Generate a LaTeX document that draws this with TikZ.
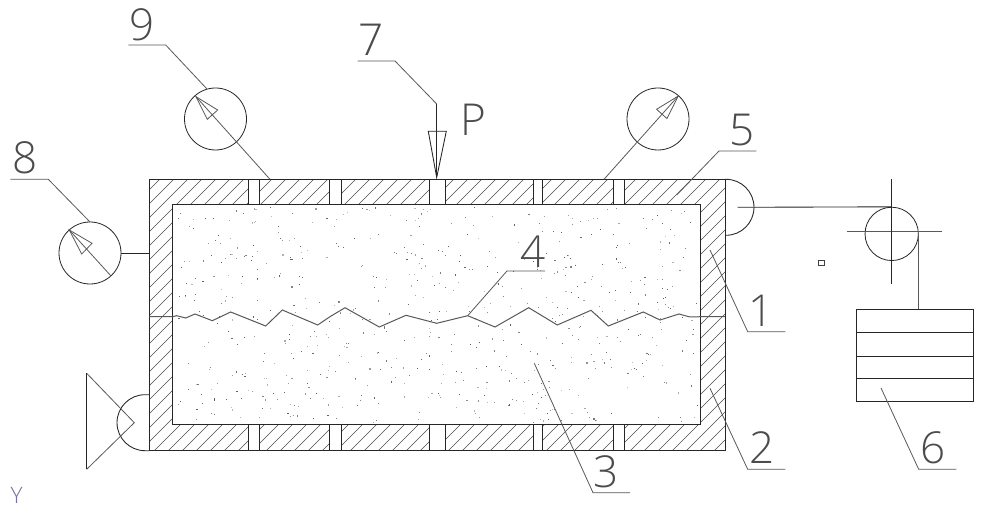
\documentclass[tikz,border=0pt]{standalone}
\usepackage{fontspec}
\newfontfamily\lab{Open Sans Light}
\begin{document}
\begin{tikzpicture}[x=0.75pt,y=-0.75pt,
  line/.style={draw=black!85,line width=0.65pt,line join=miter},
  thin line/.style={draw=black!65,line width=0.6pt},
  hatchline/.style={draw=black!70,line width=0.5pt},
  lab/.style={inner sep=0pt,outer sep=0pt,text=black!70,font=\lab\fontsize{33}{33}\selectfont}]
\useasboundingbox (0,0) rectangle (983,516);
\fill[white] (0,0) rectangle (983,516);
% stipple
\pgfmathsetseed{4711}
\foreach \i in {1,...,640}{
  \pgfmathsetmacro{\px}{176+rnd*522}
  \pgfmathsetmacro{\py}{207+rnd*215}
  \pgfmathsetmacro{\pg}{25+rnd*40}
  \fill[black!\pg] (\px,\py) rectangle +(1.1,1.1);
}
% hatching
\begin{scope}
  \clip (149.3,179.3) rectangle (172.7,450.7)
        (700.7,179.3) rectangle (725,450.7)
        (172.7,179.3) rectangle (248.3,204.3)
        (259.7,179.3) rectangle (329.3,204.3)
        (341.3,179.3) rectangle (429.3,204.3)
        (445.3,179.3) rectangle (533.3,204.3)
        (542.3,179.3) rectangle (613.7,204.3)
        (624.7,179.3) rectangle (700.7,204.3)
        (172.7,424.7) rectangle (248.3,450.7)
        (259.7,424.7) rectangle (329.3,450.7)
        (341.3,424.7) rectangle (429.3,450.7)
        (445.3,424.7) rectangle (533.3,450.7)
        (542.3,424.7) rectangle (613.7,450.7)
        (624.7,424.7) rectangle (700.7,450.7);
  \foreach \c in {325,339,...,1180}{
    \draw[hatchline] ({\c-170},170) -- ({\c-460},460);
  }
\end{scope}
% frame
\draw[line] (149.3,179.3) rectangle (725,450.7);
\draw[line] (172.7,204.3) rectangle (700.7,424.7);
\foreach \a/\b in {248.3/259.7,329.3/341.3,429.3/445.3,533.3/542.3,613.7/624.7}{
  \draw[line] (\a,179.3) -- (\a,204.3) (\b,179.3) -- (\b,204.3);
  \draw[line] (\a,424.7) -- (\a,450.7) (\b,424.7) -- (\b,450.7);
}
% crack
\draw[thin line,line width=0.75pt] (149.3,316.7) -- (172.7,316.7) -- (176.7,315.7) -- (185.7,318) -- (195,314) -- (212.3,320.7) -- (230.7,312) -- (265.7,326) -- (282.3,310) -- (317.7,325) -- (330,316.7) -- (345,307.7) -- (379.3,327) -- (406,315.3) -- (436.7,323.3) -- (467.7,315.7) -- (495,327) -- (528.7,307.7) -- (557.3,325) -- (591,310.3) -- (608.3,326) -- (643.3,312) -- (660,320) -- (679,314) -- (690,317) -- (700.7,316.7) -- (725,316.7);
% gauges
\node[circle,draw=black!85,line width=0.6pt,minimum size=46.5pt,inner sep=0pt] (g9) at (215.5,119) {};
\node[circle,draw=black!85,line width=0.6pt,minimum size=46.5pt,inner sep=0pt] (g8) at (90,253) {};
\node[circle,draw=black!85,line width=0.6pt,minimum size=46.5pt,inner sep=0pt] (gr) at (658,119) {};
\coordinate (t9) at (196,96.7);
\coordinate (t8) at (69.3,230);
\coordinate (tr) at (678.3,96);
\coordinate (w9) at (270,179.3);
\coordinate (wr) at (604,179.3);
\coordinate (e8) at (111,276);
\coordinate (wl) at (149.3,253);
\draw[thin line] (w9) -- (t9);
\draw[thin line] (wr) -- (tr);
\draw[thin line] (e8) -- (t8);
\draw[line] (g8.east) -- (wl);
\draw[thin line] (t9) -- (217.7,110) -- (207.3,119.3) -- cycle;
\draw[thin line] (t8) -- (92,243.3) -- (81.7,254) -- cycle;
\draw[thin line] (tr) -- (656.6,109.3) -- (667,118.6) -- cycle;
% load P
\coordinate (a7) at (436.7,104);
\coordinate (p7) at (436.7,177.5);
\draw[line] (a7) -- (p7);
\draw[line] (428.3,131.3) -- (446.3,131.3) -- (p7) -- cycle;
\node[lab,anchor=west] (pl) at (460.5,120) {P};
% right support and pulley
\draw[line] (725,179.3) -- (726,179.3) arc[start angle=-90,end angle=90,radius=28] -- (725,235.3);
\coordinate (rs) at (737.7,207.3);
\node[circle,draw=black!85,line width=0.6pt,minimum size=40pt,inner sep=0pt] (pul) at (891.7,233.9) {};
\draw[line] (rs) -- (pul.north);
\draw[thin line] (847.3,231.7) -- (941.7,231.7);
\draw[line] (891.7,179) -- (891.7,284.3);
\draw[thin line,line width=0.75pt] (918.3,233) -- (918.3,309.3);
\node[draw=black!75,line width=0.5pt,minimum size=4.2pt,inner sep=0pt] (sq) at (821.5,262.7) {};
% weights
\draw[line] (856.3,309.3) rectangle (973.3,401);
\foreach \y in {332.7,356.3,378.7}{ \draw[line] (856.3,\y) -- (973.3,\y); }
% left support
\draw[line] (149.3,394.7) -- (145,394.7) arc[start angle=270,end angle=90,radius=28] -- (149.3,450.7);
\draw[thin line] (86.7,373.3) -- (134.3,422.7) -- (86.7,469.3);
\draw[line] (86.7,373.3) -- (86.7,469.3);
% leaders
\draw[thin line] (128.3,45) -- (165.7,45) -- (206.7,88.7);
\draw[thin line] (10.3,179.3) -- (48.3,179.3) -- (90,222);
\draw[thin line] (357.7,61) -- (395,61) -- (a7);
\draw[thin line] (756.3,151) -- (719,151) -- (676.7,195);
\draw[thin line] (710,250) -- (747.7,331.7) -- (785.3,331.7);
\draw[thin line] (710,388.3) -- (747.7,469.3) -- (785.3,469.3);
\draw[thin line] (881,388) -- (918.7,469.3) -- (956.3,469.3);
\draw[thin line] (534.3,363.3) -- (593,492.7) -- (630,492.7);
\draw[thin line] (467.7,315.7) -- (507,271) -- (545,271);
% labels
\node[lab] (n9) at (142.5,25) {9};
\node[lab] (n8) at (25,157.5) {8};
\node[lab] (n7) at (371.5,39.5) {7};
\node[lab] (n5) at (742.5,130) {5};
\node[lab] (n4) at (533.5,252) {4};
\node[lab] (n1) at (761,311) {1};
\node[lab] (n3) at (606.5,472) {3};
\node[lab] (n2) at (762,448) {2};
\node[lab] (n6) at (933,448) {6};
\node[inner sep=0pt,text=blue!30!black!55,font=\lab\fontsize{17}{17}\selectfont] (ny) at (16.7,495.5) {Y};
\end{tikzpicture}
\end{document}
